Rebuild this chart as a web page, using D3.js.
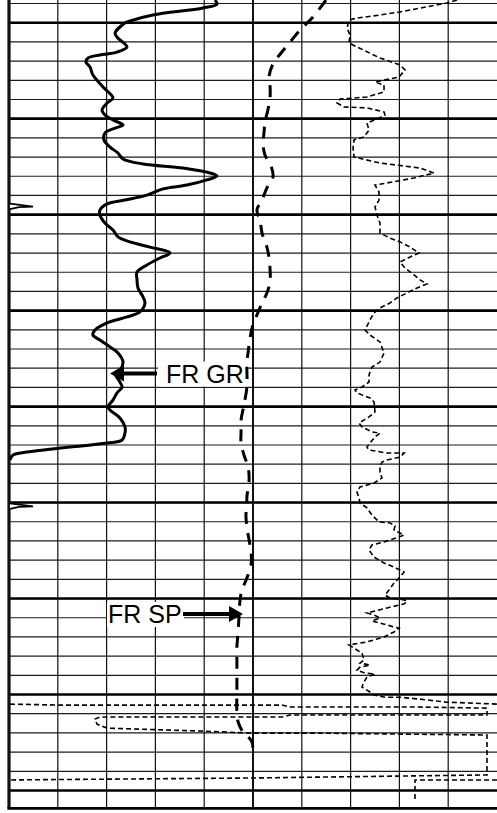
<!DOCTYPE html>
<html><head><meta charset="utf-8">
<script src="https://cdn.jsdelivr.net/npm/d3@7"></script>
<style>html,body{margin:0;padding:0;background:#fff;}svg{display:block;}</style>
</head><body>
<script>
// ---- DATA (depth in ft below top grid line, values in curve units) ----
// Gamma ray, API (0-150 across left track)
const grCurve = [[-1.8,126.6],[0.3,127.9],[2.3,119.3],[6.0,88.5],[9.1,74.4],[10.2,71.3],[15.4,65.2],[17.5,66.4],[22.7,72.5],[25.3,66.4],[26.8,55.9],[28.4,48.6],[30.5,47.3],[33.1,49.8],[37.3,51.6],[43.5,57.8],[49.2,63.9],[51.8,60.3],[55.5,57.2],[58.1,59.0],[60.7,63.9],[63.3,70.1],[64.9,65.2],[67.5,59.0],[71.1,58.4],[74.8,62.1],[77.9,67.0],[81.0,70.1],[83.6,82.4],[85.7,107.0],[88.3,123.6],[89.9,127.9],[91.9,121.7],[94.6,109.4],[96.6,94.7],[99.8,84.8],[102.4,71.3],[104.4,60.3],[107.6,55.9],[110.2,55.9],[114.4,59.0],[118.0,63.9],[121.6,67.0],[124.2,74.4],[126.9,86.7],[130.0,99.0],[132.6,92.8],[136.2,84.8],[139.9,78.7],[144.0,78.7],[148.2,79.3],[152.9,82.4],[156.0,83.6],[160.7,80.5],[163.3,72.5],[166.4,60.3],[170.1,52.9],[172.7,51.6],[175.3,55.9],[178.9,62.1],[182.1,67.0],[186.8,70.1],[190.9,68.2],[192.5,65.2],[197.2,68.2],[199.8,69.5],[202.9,66.4],[206.6,63.9],[210.2,60.9],[211.8,62.1],[215.9,68.2],[220.6,71.3],[223.7,71.3],[227.4,69.5],[229.0,60.3],[231.6,31.4],[233.7,11.1],[235.2,2.5],[237.8,0.6]];
// Spontaneous potential, mV (-100..+100 across full width)
const spCurve = [[-1.8,29.9],[7.6,24.2],[13.8,19.3],[20.1,15.2],[25.8,11.5],[31.5,8.2],[37.8,6.6],[43.5,7.0],[48.7,7.0],[55.5,6.1],[61.7,4.9],[67.5,4.5],[72.7,4.1],[78.9,4.9],[84.7,7.4],[90.4,8.2],[96.1,5.7],[102.4,3.7],[107.6,1.6],[112.8,2.9],[119.6,3.7],[126.9,5.7],[132.6,6.6],[138.8,7.0],[145.1,7.0],[150.8,5.7],[156.0,3.7],[162.3,1.6],[169.1,-0.4],[174.3,-1.2],[181.6,-2.0],[187.3,-2.5],[199.8,-2.5],[209.2,-3.7],[217.0,-4.9],[223.2,-4.9],[229.0,-4.9],[235.2,-3.7],[241.5,-2.0],[248.2,-1.6],[257.1,-2.5],[262.3,-2.5],[266.5,-2.9],[272.7,-2.5],[279.5,-1.6],[285.7,-0.8],[292.5,-0.8],[299.3,-2.5],[305.5,-4.5],[310.7,-5.3],[318.6,-5.7],[327.4,-6.1],[335.2,-6.6],[342.0,-6.6],[349.8,-6.6],[357.6,-6.6],[369.1,-6.6],[374.3,-6.1],[379.5,-4.1],[384.7,-0.4],[392.5,-0.4]];
// Resistivity, ohm-m (0-20 across right track)
const resCurve = [[-1.8,16.72],[-0.3,15.90],[4.4,12.05],[6.0,10.41],[7.6,8.52],[8.6,7.87],[12.8,7.71],[16.4,7.95],[20.6,7.87],[28.4,10.41],[32.0,12.05],[34.6,12.46],[38.3,11.97],[40.9,10.00],[42.5,10.74],[46.1,10.74],[48.7,9.34],[49.8,7.13],[51.8,6.89],[53.9,7.46],[54.4,9.34],[56.5,10.74],[58.1,10.82],[59.7,10.33],[62.3,9.34],[65.9,9.51],[69.5,9.10],[71.1,8.28],[75.3,8.20],[80.0,8.28],[83.1,10.41],[85.7,13.69],[88.3,14.84],[90.9,13.20],[93.5,10.98],[94.6,10.00],[98.2,10.33],[102.4,10.33],[106.0,10.00],[110.2,10.16],[114.4,10.41],[119.6,10.41],[122.2,11.23],[124.2,12.05],[126.9,12.87],[130.0,13.61],[132.1,12.87],[134.7,12.05],[137.8,12.46],[141.4,13.20],[144.0,13.69],[146.1,14.26],[148.2,13.44],[150.8,12.62],[153.4,11.80],[156.0,11.23],[158.6,10.41],[161.2,9.92],[164.9,9.59],[170.1,9.18],[172.7,9.59],[176.3,10.41],[182.1,10.74],[186.8,10.41],[189.4,9.75],[193.5,9.51],[197.2,9.51],[199.8,8.93],[201.3,8.36],[202.9,8.52],[205.5,9.59],[207.6,9.92],[212.8,10.00],[215.4,9.51],[218.5,8.69],[220.6,8.93],[223.2,9.75],[223.8,10.41],[225.8,10.00],[229.0,9.59],[231.1,9.34],[232.6,9.51],[234.2,10.98],[234.2,12.38],[236.3,12.05],[237.8,10.98],[238.9,10.57],[241.5,10.41],[244.1,10.41],[247.2,10.57],[249.8,9.92],[251.9,8.77],[254.5,8.52],[257.6,8.69],[260.2,8.77],[262.8,9.34],[266.5,9.75],[270.1,10.33],[270.6,11.23],[272.2,11.64],[274.3,11.56],[276.9,12.38],[277.9,11.97],[280.5,10.74],[282.1,9.75],[284.7,9.51],[288.4,9.92],[291.5,10.74],[293.6,11.56],[296.2,12.38],[298.8,12.05],[301.9,11.56],[305.5,11.15],[308.1,10.82],[309.7,11.23],[310.7,12.38],[311.3,12.62],[312.8,12.38],[314.9,10.98],[317.5,9.34],[318.6,9.92],[320.1,10.41],[321.7,9.75],[322.8,10.41],[324.8,11.56],[325.4,11.97],[327.4,11.56],[330.0,10.74],[332.6,9.34],[334.2,7.87],[336.8,8.52],[338.4,8.93],[342.0,9.10],[343.6,8.77],[344.7,9.59],[345.7,8.77],[347.3,8.52],[348.8,9.18],[349.4,10.00],[350.9,9.34],[353.5,9.10],[356.1,8.93],[358.7,9.59],[360.3,9.92],[361.4,10.82],[361.4,12.05],[362.4,13.69],[364.0,15.90],[364.5,18.03],[365.0,20.00]];
// Resistivity backup (wrap) scale, ohm-m (20-60 across full width)
const resBackup1 = [[365.0,20.08],[365.5,24.18],[365.5,39.51],[365.5,42.38],[366.5,43.03],[366.5,53.44],[367.1,59.18],[370.7,59.18],[370.7,43.03],[371.7,42.38],[371.7,27.46],[372.8,27.05],[375.4,27.21],[377.5,28.03],[379.0,35.66],[380.1,39.75],[380.1,45.0],[381.1,59.18],[401.9,59.18],[402.5,51.80],[403.5,39.75],[404.5,20.08]];
const resBackup2 = [[404.5,60.0],[404.5,53.28],[415.0,53.28]];
// grid / annotations
const minorDepths = d3.range(0, 420, 10);
const majorDepths = d3.range(10, 420, 50);
const gridDivisions = d3.range(0, 10);
const markerDepths = [105.8, 262.0];
const labelTexts = ["FR GR", "FR SP"];
const labelDepths = [192.8, 318.0];
const bottomDepth = 419.3;

// ---- LAYOUT ----
const W = 497, H = 813;
const LEFT = 9, MID = 253, RIGHT = 497;
const y = d3.scaleLinear().domain([0, 420]).range([3.5, 3.5 + 420 * 1.9195]);
const xGrid = d3.scaleLinear().domain([0, 10]).range([LEFT, RIGHT]);
const xGR = d3.scaleLinear().domain([0, 150]).range([LEFT, MID]);
const xSP = d3.scaleLinear().domain([-100, 100]).range([LEFT, RIGHT]);
const xRes = d3.scaleLinear().domain([0, 20]).range([MID, RIGHT]);
const xResB = d3.scaleLinear().domain([20, 60]).range([LEFT, RIGHT]);
const yBottom = y(bottomDepth);

const svg = d3.select("body").append("svg").attr("width", W).attr("height", H);
svg.append("rect").attr("width", W).attr("height", H).attr("fill", "#fff");
svg.append("defs").append("clipPath").attr("id", "clip")
  .append("rect").attr("x", LEFT).attr("y", 0).attr("width", RIGHT - LEFT).attr("height", yBottom);

const grid = svg.append("g");
grid.selectAll("line.hmin").data(minorDepths).join("line").attr("class", "hmin")
  .attr("x1", LEFT).attr("x2", RIGHT).attr("y1", d => y(d)).attr("y2", d => y(d))
  .attr("stroke", "#1c1c1c").attr("stroke-width", 1.2);
grid.selectAll("line.hmaj").data(majorDepths).join("line").attr("class", "hmaj")
  .attr("x1", LEFT).attr("x2", RIGHT).attr("y1", d => y(d)).attr("y2", d => y(d))
  .attr("stroke", "#000").attr("stroke-width", 2.6);
grid.selectAll("line.v").data(gridDivisions).join("line").attr("class", "v")
  .attr("x1", d => xGrid(d)).attr("x2", d => xGrid(d)).attr("y1", 0).attr("y2", yBottom)
  .attr("stroke", "#111").attr("stroke-width", d => d === 0 ? 3.2 : (d === 5 ? 2 : 1.2));
grid.append("line").attr("x1", LEFT - 1.6).attr("x2", RIGHT).attr("y1", yBottom).attr("y2", yBottom)
  .attr("stroke", "#000").attr("stroke-width", 2.6);

// label boxes (hide grid under text)
const labelLayout = [
  { x0: 158, x1: 246, textX: 166, arrow: [157, 124], headTip: 110, dir: -1 },
  { x0: 107, x1: 184, textX: 108, arrow: [183, 230], headTip: 243, dir: 1 }
];
const ann = svg.append("g");
labelTexts.forEach((t, i) => {
  const L = labelLayout[i], yc = y(labelDepths[i]);
  ann.append("rect").attr("x", L.x0).attr("y", yc - 12).attr("width", L.x1 - L.x0).attr("height", 25).attr("fill", "#fff");
});

const curves = svg.append("g").attr("clip-path", "url(#clip)");
const lineSmooth = (xs) => d3.line().x(d => xs(d[1])).y(d => y(d[0])).curve(d3.curveCatmullRom.alpha(0.5));
const lineLin = (xs) => d3.line().x(d => xs(d[1])).y(d => y(d[0]));

curves.append("path").attr("d", lineLin(xRes)(resCurve)).attr("fill", "none")
  .attr("stroke", "#000").attr("stroke-width", 1.6).attr("stroke-dasharray", "5,3");
curves.append("path").attr("d", lineLin(xResB)(resBackup1)).attr("fill", "none")
  .attr("stroke", "#000").attr("stroke-width", 1.6).attr("stroke-dasharray", "5,3");
curves.append("path").attr("d", lineLin(xResB)(resBackup2)).attr("fill", "none")
  .attr("stroke", "#000").attr("stroke-width", 1.6).attr("stroke-dasharray", "5,3");
curves.append("path").attr("d", lineSmooth(xSP)(spCurve)).attr("fill", "none")
  .attr("stroke", "#000").attr("stroke-width", 3).attr("stroke-dasharray", "12,9");
curves.append("path").attr("d", lineSmooth(xGR)(grCurve)).attr("fill", "none")
  .attr("stroke", "#000").attr("stroke-width", 3).attr("stroke-linejoin", "round");

// labels, arrows
labelTexts.forEach((t, i) => {
  const L = labelLayout[i], yc = y(labelDepths[i]);
  ann.append("text").attr("x", L.textX).attr("y", yc + 9.5).text(t)
    .attr("font-family", "'Liberation Sans', Arial, sans-serif").attr("font-size", 25)
    .attr("fill", "#000");
  ann.append("line").attr("x1", L.arrow[0]).attr("x2", L.arrow[1]).attr("y1", yc).attr("y2", yc)
    .attr("stroke", "#000").attr("stroke-width", 4);
  const base = L.headTip - L.dir * 14;
  ann.append("path").attr("d", `M${L.headTip},${yc} L${base},${yc - 8} L${base},${yc + 8} Z`).attr("fill", "#000");
});

// depth markers
svg.append("g").selectAll("path").data(markerDepths).join("path")
  .attr("d", d => { const c = y(d); return `M${LEFT + 1},${c - 3} L${LEFT + 24},${c} L${LEFT + 10},${c + 0.5} L${LEFT + 1},${c + 2.5}`; })
  .attr("fill", "#fff").attr("stroke", "#000").attr("stroke-width", 1.8);
</script>
</body></html>
